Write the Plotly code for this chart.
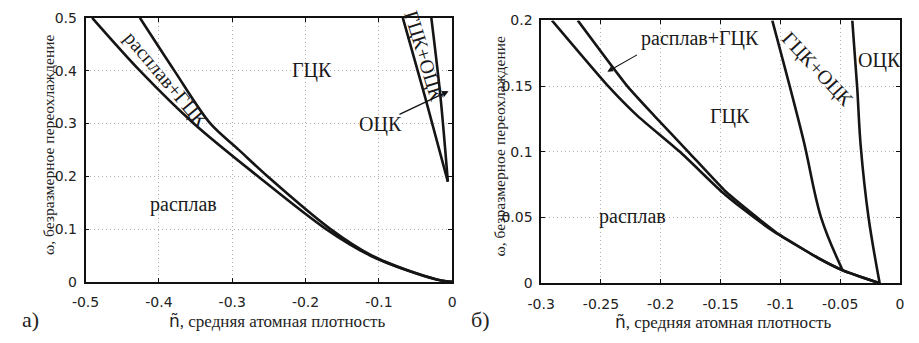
import plotly.graph_objects as go

# ---------------- data: panel a) ----------------
a_melt_x = [-0.491, -0.426, -0.3525, -0.265, -0.172, -0.112, -0.058, -0.023, -0.008, 0.0]
a_melt_y = [0.5, 0.4, 0.3, 0.2, 0.1, 0.05, 0.02, 0.005, 0.001, 0.0]
a_fcc_x = [-0.426, -0.379, -0.330, -0.291, -0.252, -0.166, -0.110, -0.057, -0.022, -0.008, 0.0]
a_fcc_y = [0.5, 0.4, 0.3, 0.25, 0.2, 0.1, 0.05, 0.02, 0.005, 0.001, 0.0]
a_fb_left_x = [-0.0674, -0.037, -0.006]
a_fb_left_y = [0.5, 0.35, 0.19]
a_fb_right_x = [-0.0285, -0.016, -0.006]
a_fb_right_y = [0.5, 0.35, 0.19]

a_xticks = [-0.5, -0.4, -0.3, -0.2, -0.1, 0.0]
a_xticktext = ["-0.5", "-0.4", "-0.3", "-0.2", "-0.1", "0"]
a_yticks = [0.0, 0.1, 0.2, 0.3, 0.4, 0.5]
a_yticktext = ["0", "0.1", "0.2", "0.3", "0.4", "0.5"]

# ---------------- data: panel б) ----------------
b_y = [0.2, 0.15, 0.127, 0.1, 0.07, 0.057, 0.039, 0.019, 0.0099, 0.0]
b_melt_x = [-0.291, -0.244, -0.219, -0.184, -0.1495, -0.132, -0.105, -0.068, -0.048, -0.017]
b_fcc_x = [-0.2694, -0.228, -0.205, -0.177, -0.146, -0.129, -0.104, -0.068, -0.048, -0.017]
b_fb_x = [-0.1068, -0.081, -0.0659, -0.048]
b_fb_y = [0.2, 0.11, 0.0498, 0.0099]
b_bcc_x = [-0.0399, -0.0358, -0.0329, -0.0263, -0.017]
b_bcc_y = [0.2, 0.149, 0.105, 0.05, 0.0]

b_xticks = [-0.3, -0.25, -0.2, -0.15, -0.1, -0.05, 0.0]
b_xticktext = ["-0.3", "-0.25", "-0.2", "-0.15", "-0.1", "-0.05", "0"]
b_yticks = [0.0, 0.05, 0.1, 0.15, 0.2]
b_yticktext = ["0", "0.05", "0.1", "0.15", "0.2"]

SERIF = "Liberation Serif, Times New Roman, serif"
SANS = "DejaVu Sans, Verdana, sans-serif"

fig = go.Figure()
for xs, ys in [(a_melt_x, a_melt_y), (a_fcc_x, a_fcc_y),
               (a_fb_left_x, a_fb_left_y), (a_fb_right_x, a_fb_right_y)]:
    fig.add_trace(go.Scatter(x=xs, y=ys, mode="lines",
                             line=dict(color="#151515", width=2.6, shape="spline", smoothing=0.9),
                             xaxis="x", yaxis="y", showlegend=False, hoverinfo="skip"))
for xs, ys, sm in [(b_melt_x, b_y, 0.5), (b_fcc_x, b_y, 0.5), (b_fb_x, b_fb_y, 1.0), (b_bcc_x, b_bcc_y, 1.0)]:
    fig.add_trace(go.Scatter(x=xs, y=ys, mode="lines",
                             line=dict(color="#151515", width=2.6, shape="spline", smoothing=sm),
                             xaxis="x2", yaxis="y2", showlegend=False, hoverinfo="skip"))


def axis(domain, rng, tv, tt, anchor, standoff):
    return dict(domain=domain, range=rng, anchor=anchor, tickvals=tv, ticktext=tt,
                showgrid=True, gridcolor="#b0b0b0", griddash="1px,3px", gridwidth=1,
                showline=True, linecolor="#111", linewidth=1.6, mirror="ticks",
                ticks="inside", ticklen=4, tickcolor="#111", zeroline=False,
                tickfont=dict(family=SANS, size=14, color="#222"),
                ticklabelstandoff=standoff)


fig.update_layout(
    width=919, height=343,
    margin=dict(l=0, r=0, t=0, b=0),
    paper_bgcolor="white", plot_bgcolor="white",
    xaxis=axis([73 / 919, 447 / 919], [-0.5, 0], a_xticks, a_xticktext, "y", 7),
    yaxis=axis([(343 - 287.3) / 343, (343 - 10.3) / 343], [0, 0.5], a_yticks, a_yticktext, "x", 4),
    xaxis2=axis([537.7 / 919, 903.7 / 919], [-0.3, 0], b_xticks, b_xticktext, "y2", 7),
    yaxis2=axis([(343 - 288.7) / 343, (343 - 13) / 343], [0, 0.2], b_yticks, b_yticktext, "x2", 4),
)

ann = []
def lab(text, x, y, xr, yr, size=20, angle=0):
    ann.append(dict(text=text, x=x, y=y, xref=xr, yref=yr, showarrow=False,
                    textangle=angle, xanchor="center", yanchor="middle",
                    font=dict(family=SERIF, size=size, color="#1a1a1a")))

# panel a labels
lab("ГЦК", -0.1916, 0.401, "x", "y")
lab("ОЦК", -0.0973, 0.2975, "x", "y")
lab("расплав", -0.3659, 0.147, "x", "y")
lab("расплав+ГЦК", -0.3904, 0.3832, "x", "y", angle=50)
lab("ГЦК+ОЦК", -0.0383, 0.427, "x", "y", angle=73)
# panel b labels
lab("расплав+ГЦК", -0.1669, 0.186, "x2", "y2")
lab("ГЦК", -0.1424, 0.1267, "x2", "y2")
lab("ОЦК", -0.0174, 0.1695, "x2", "y2")
lab("расплав", -0.2237, 0.0506, "x2", "y2")
lab("ГЦК+ОЦК", -0.0686, 0.163, "x2", "y2", angle=47)

# arrows
ann.append(dict(text="", x=-0.005, y=0.361, xref="x", yref="y",
                ax=-0.074, ay=0.316, axref="x", ayref="y",
                showarrow=True, arrowhead=2, arrowsize=1, arrowwidth=1.3, arrowcolor="#111"))
ann.append(dict(text="", x=-0.2446, y=0.161, xref="x2", yref="y2",
                ax=-0.2186, ay=0.1744, axref="x2", ayref="y2",
                showarrow=True, arrowhead=2, arrowsize=1, arrowwidth=1.1, arrowcolor="#111"))

# axis titles and panel letters (paper coordinates)
def ptext(text, xpx, ypx, size, angle=0, family=SERIF):
    ann.append(dict(text=text, x=xpx / 919, y=1 - ypx / 343, xref="paper", yref="paper",
                    showarrow=False, textangle=angle, xanchor="center", yanchor="middle",
                    font=dict(family=family, size=size, color="#222")))

ytitle = "ω, безразмерное переохлаждение"
xtitle = '<span style="font-family:DejaVu Sans">ñ</span>, средняя атомная плотность'
ptext(ytitle, 36, 143.5, 15.6, angle=-90)
ptext(ytitle, 495.5, 144.5, 15.6, angle=-90)
ptext(xtitle, 269, 328, 17)
ptext(xtitle, 724, 329, 17)
ptext("а)", 17, 327, 22)
ptext("б)", 476, 327, 22)

fig.update_layout(annotations=ann)
fig.write_html("out.html")
